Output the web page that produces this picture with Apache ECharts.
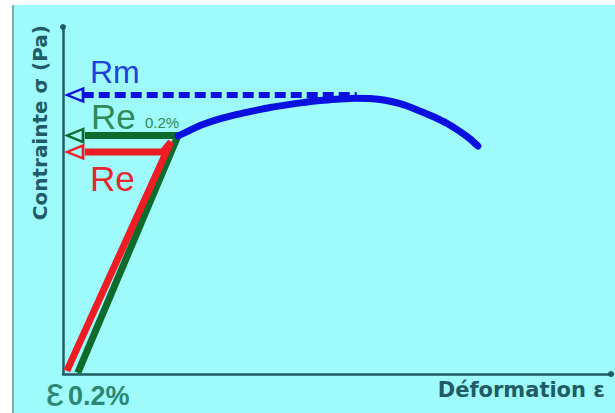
<!DOCTYPE html>
<html>
<head>
<meta charset="utf-8">
<script src="https://cdn.jsdelivr.net/npm/echarts@6/dist/echarts.min.js"></script>
<style>html,body{margin:0;padding:0;background:#fff}#c{width:615px;height:413px}</style>
</head>
<body>
<div id="c"></div>
<script>
// Arbitrary units (x: strain, y: stress)
const curveX = [21.0, 23.2, 25.5, 28.6, 31.8, 35.0, 37.8, 41.4, 43.8, 46.9, 50.0, 53.3, 56.0, 58.8, 61.5, 64.2, 67.5, 70.1, 72.4, 74.3, 75.7];
const curveY = [68.6, 70.3, 71.9, 73.5, 74.8, 75.9, 76.8, 77.7, 78.2, 78.8, 79.2, 79.5, 79.4, 78.9, 77.9, 76.4, 74.2, 72.2, 69.9, 67.7, 65.7];
const offsetX = [2.7, 21.0, 4.0];      // Re 0.2% construction (green)
const offsetY = [0.3, 68.7, 68.7];
const elasticX = [0.7, 19.7, 18.2, 4.0]; // Re construction (red)
const elasticY = [0.9, 66.9, 64.0, 64.0];
const rmX = [3.6, 53.6];                // Rm dashed line
const rmY = [80.4, 80.4];
const arrowX = 2.2;
const arrowRmY = 80.4, arrowRe02Y = 68.7, arrowReY = 64.0;

const labelRm = 'Rm', labelRe = 'Re', labelSub = '0.2%';
const xName = 'Déformation ε', yName = 'Contrainte σ (Pa)';
const epsSymbol = 'ε', epsSub = '0.2%';

const zip = (xs, ys) => xs.map((x, i) => [x, ys[i]]);

const BG = '#9ffbfb';
const AX = '#1f5c66';
const BLUE = '#0a10e0', GREEN = '#0f6b2c', RED = '#f01c24';

const chart = echarts.init(document.getElementById('c'), null, {renderer: 'svg', width: 615, height: 413});

function arrow(y, color) {
  return {
    type: 'scatter', data: [[arrowX, y]], symbol: 'triangle', symbolRotate: 90,
    symbolSize: [13, 16], silent: true,
    itemStyle: {color: BG, borderColor: color, borderWidth: 2.5, opacity: 1}
  };
}

chart.setOption({
  animation: false,
  backgroundColor: '#ffffff',
  grid: {left: 63, right: 4, top: 27, bottom: 39, containLabel: false, outerBoundsMode: 'none'},
  xAxis: {
    type: 'value', min: 0, max: 100,
    axisLine: {show: true, symbol: ['none', 'circle'], symbolSize: [6, 6], lineStyle: {color: AX, width: 2.5}},
    axisTick: {show: false}, axisLabel: {show: false}, splitLine: {show: false},
    name: xName, nameLocation: 'end', nameGap: -6,
    nameTextStyle: {color: AX, fontFamily: 'DejaVu Sans', fontWeight: 'bold', fontSize: 21, align: 'right', verticalAlign: 'top', padding: [5, 0, 0, 0]}
  },
  yAxis: {
    type: 'value', min: 0, max: 100,
    axisLine: {show: true, symbol: ['none', 'circle'], symbolSize: [6, 6], lineStyle: {color: AX, width: 2.5}},
    axisTick: {show: false}, axisLabel: {show: false}, splitLine: {show: false},
    name: yName, nameLocation: 'end', nameGap: 2, nameRotate: 90,
    nameTextStyle: {color: AX, fontFamily: 'DejaVu Sans', fontWeight: 'bold', fontSize: 20, align: 'right', verticalAlign: 'bottom', padding: [0, 0, 13, 0]}
  },
  series: [
    {type: 'line', data: zip(offsetX, offsetY), symbol: 'none', silent: true,
     lineStyle: {color: GREEN, width: 7, cap: 'butt', join: 'miter'}},
    {type: 'line', data: zip(elasticX, elasticY), symbol: 'none', silent: true,
     lineStyle: {color: RED, width: 7, cap: 'butt', join: 'miter'}},
    {type: 'line', data: zip(rmX, rmY), symbol: 'none', silent: true,
     lineStyle: {color: BLUE, width: 6, type: [11, 5], cap: 'butt'}},
    arrow(arrowRmY, BLUE),
    arrow(arrowRe02Y, GREEN),
    arrow(arrowReY, RED),
    {type: 'line', data: zip(curveX, curveY), symbol: 'none', smooth: 0.25, silent: true,
     lineStyle: {color: BLUE, width: 7, cap: 'round', join: 'round'}}
  ],
  graphic: [
    {type: 'rect', z: -10, silent: true, shape: {x: 14, y: 5, width: 601, height: 408}, style: {fill: BG}},
    {type: 'line', z: -9, silent: true, shape: {x1: 13, y1: 5, x2: 13, y2: 413}, style: {stroke: '#86a9aa', lineWidth: 2}},
    {type: 'text', z: 100, left: 90, top: 56, style: {text: labelRm, fill: '#1e40dc', font: '32px "Liberation Sans"'}},
    {type: 'text', z: 100, x: 91, y: 116, style: {text: labelRe, fill: '#2e8a58', font: '35px "Liberation Sans"', verticalAlign: 'middle'}},
    {type: 'text', z: 100, x: 145, y: 122, style: {text: labelSub, fill: '#2e8a58', font: '15px "Liberation Sans"', verticalAlign: 'middle'}},
    {type: 'text', z: 100, x: 90, y: 178.5, style: {text: labelRe, fill: '#e8262e', font: '35px "Liberation Sans"', verticalAlign: 'middle'}},
    {type: 'text', z: 100, x: 46, y: 392, style: {text: epsSymbol, fill: '#2b8672', font: '40px "Liberation Sans"', verticalAlign: 'middle'}},
    {type: 'text', z: 100, x: 68, y: 396, style: {text: epsSub, fill: '#2b8672', font: 'bold 27px "Liberation Sans"', verticalAlign: 'middle'}}
  ]
});
</script>
</body>
</html>
